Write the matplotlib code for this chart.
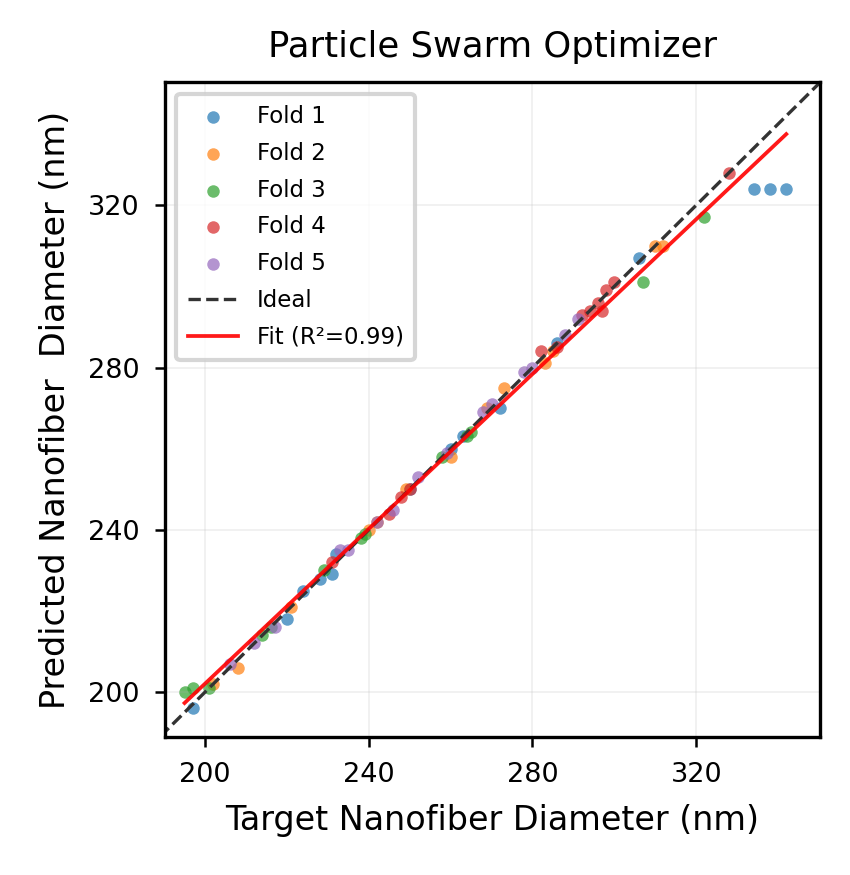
import numpy as np
import matplotlib
matplotlib.use("Agg")
import matplotlib.pyplot as plt

# данные по фолдам (target, predicted)
fold1_x = [197, 224, 220, 228, 231, 232, 250, 260, 263, 272, 286, 306, 334, 338, 342]
fold1_y = [196, 225, 218, 228, 229, 234, 250, 260, 263, 270, 286, 307, 324, 324, 324]
fold2_x = [202, 208, 221, 240, 242, 249, 260, 269, 273, 283, 285, 310, 312]
fold2_y = [202, 206, 221, 240, 242, 250, 258, 270, 275, 281, 284, 310, 310]
fold3_x = [195, 197, 201, 214, 216, 229, 238, 239, 258, 264, 265, 307, 322]
fold3_y = [200, 201, 201, 214, 216, 230, 238, 239, 258, 263, 264, 301, 317]
fold4_x = [231, 245, 248, 250, 282, 286, 292, 294, 296, 297, 298, 300, 328]
fold4_y = [232, 244, 248, 250, 284, 285, 293, 294, 296, 294, 299, 301, 328]
fold5_x = [206, 212, 217, 233, 235, 242, 246, 252, 259, 268, 270, 278, 280, 288, 291]
fold5_y = [207, 212, 216, 235, 235, 242, 245, 253, 259, 269, 271, 279, 280, 288, 292]

folds = [(fold1_x, fold1_y), (fold2_x, fold2_y), (fold3_x, fold3_y),
         (fold4_x, fold4_y), (fold5_x, fold5_y)]
colors = ['#1f77b4', '#ff7f0e', '#2ca02c', '#d62728', '#9467bd']

fig = plt.figure(figsize=(850 / 300, 875 / 300), dpi=300)
ax = fig.add_axes([0.194, 0.158, 0.771, 0.748])

for i, (fx, fy) in enumerate(folds):
    ax.scatter(fx, fy, s=9, color=colors[i], alpha=0.7, linewidths=0, label=f'Fold {i+1}')

lo, hi = 189, 351
ax.plot([lo, hi], [lo, hi], '--', color='#333333', lw=0.8, label='Ideal')

all_x = np.concatenate([np.array(f[0]) for f in folds])
all_y = np.concatenate([np.array(f[1]) for f in folds])
k, b = np.polyfit(all_x, all_y, 1)
xx = np.array([all_x.min(), all_x.max()])
ax.plot(xx, k * xx + b, color='red', lw=0.9, alpha=0.9, label='Fit (R²=0.99)')

ax.set_xlim(190.2, 350.3)
ax.set_ylim(189, 350.3)
ax.set_xticks([200, 240, 280, 320])
ax.set_yticks([200, 240, 280, 320])
ax.tick_params(labelsize=6.5, width=0.6, length=2.5)
ax.grid(True, alpha=0.2, lw=0.4)
for sp in ax.spines.values():
    sp.set_linewidth(0.8)

ax.set_title('Particle Swarm Optimizer', fontsize=8.5)
ax.set_xlabel('Target Nanofiber Diameter (nm)', fontsize=8)
ax.set_ylabel('Predicted Nanofiber  Diameter (nm)', fontsize=8)
ax.legend(fontsize=5.5, loc='upper left', handlelength=2.2, borderpad=0.5, labelspacing=0.6)

fig.savefig('out.png', dpi=300)
